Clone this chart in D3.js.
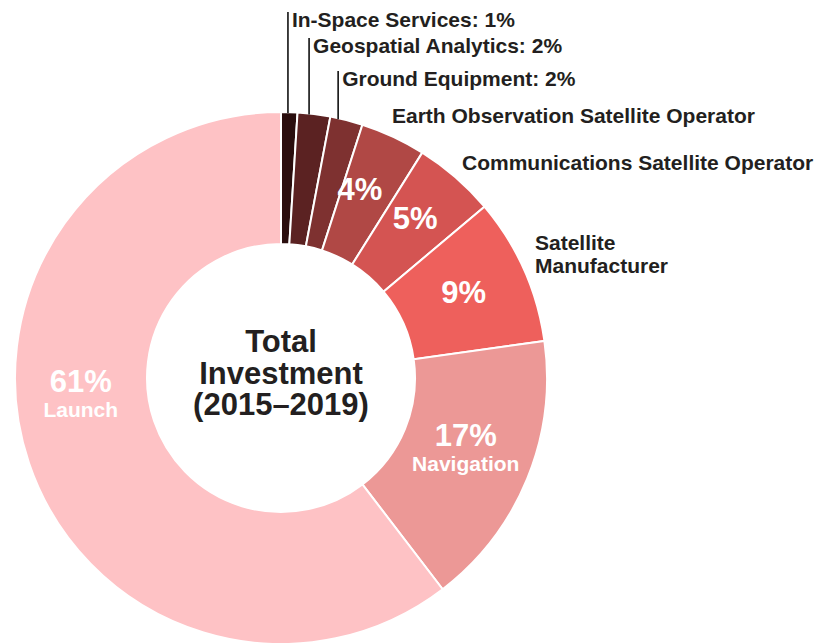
<!DOCTYPE html>
<html>
<head>
<meta charset="utf-8">
<script src="https://cdn.jsdelivr.net/npm/d3@7"></script>
<style>
  html, body { margin: 0; padding: 0; background: #ffffff; }
  svg { display: block; }
  text { font-family: "Liberation Sans", Arial, Helvetica, sans-serif; font-weight: bold; }
</style>
</head>
<body>
<svg id="chart" width="835" height="643"></svg>
<script>
// Investment share by segment, 2015–2019 (percent)
const segments = [
  "In-Space Services",
  "Geospatial Analytics",
  "Ground Equipment",
  "Earth Observation Satellite Operator",
  "Communications Satellite Operator",
  "Satellite Manufacturer",
  "Navigation",
  "Launch"
];
const shares = [1, 2, 2, 4, 5, 9, 17, 61];
const sliceColors = ["#2a0e0e", "#5b2222", "#7e3130", "#b04845", "#d45452", "#ee605c", "#ec9896", "#fec2c5"];
const centerTitle = ["Total", "Investment", "(2015–2019)"];

// Layout: centre and radii of the ring
const width = 835, height = 643;
const cx = 281, cy = 378;
const outerR = 266, innerR = 134;
const ink = "#231f20";

const svg = d3.select("#chart");
const g = svg.append("g").attr("transform", `translate(${cx},${cy})`);

const data = segments.map((name, i) => ({ name, value: shares[i], color: sliceColors[i], i }));

const pie = d3.pie().value(d => d.value).sort(null);
const arcs = pie(data);
const arc = d3.arc().innerRadius(innerR).outerRadius(outerR);

g.selectAll("path.slice")
  .data(arcs)
  .join("path")
  .attr("class", "slice")
  .attr("d", arc)
  .attr("fill", d => d.data.color)
  .attr("stroke", "#ffffff")
  .attr("stroke-width", 2)
  .attr("stroke-linejoin", "miter");

// Helpers to place things along a slice
const angleAt = (a, f) => a.startAngle + f * (a.endAngle - a.startAngle);
const pointAt = (angle, r) => [r * Math.sin(angle), -r * Math.cos(angle)];

// Labels inside the ring: where along the slice (fraction) and whether the name is shown
const insideLabels = [
  { i: 3, f: 0.34, r: 205, name: false },
  { i: 4, f: 0.44, r: 209, name: false },
  { i: 5, f: 0.46, r: 202, name: false },
  { i: 6, f: 0.48, r: 198, name: true },
  { i: 7, f: 0.564, r: 201, name: true }
];

insideLabels.forEach(l => {
  const a = arcs[l.i];
  const [x, y] = pointAt(angleAt(a, l.f), l.r);
  const pct = a.data.value + "%";
  if (!l.name) {
    g.append("text")
      .attr("x", x).attr("y", y + 11)
      .attr("text-anchor", "middle")
      .attr("fill", "#ffffff")
      .attr("font-size", 31)
      .text(pct);
  } else {
    g.append("text")
      .attr("x", x).attr("y", y - 3)
      .attr("text-anchor", "middle")
      .attr("fill", "#ffffff")
      .attr("font-size", 31)
      .text(pct);
    g.append("text")
      .attr("x", x).attr("y", y + 22)
      .attr("text-anchor", "middle")
      .attr("fill", "#ffffff")
      .attr("font-size", 21)
      .text(a.data.name);
  }
});

// Small slices: vertical leader lines to labels above the ring
const leaderLabels = [
  { i: 0, f: 0.42, baseline: 27 },
  { i: 1, f: 0.35, baseline: 53 },
  { i: 2, f: 0.24, baseline: 86 }
];

leaderLabels.forEach(l => {
  const a = arcs[l.i];
  const ang = angleAt(a, l.f);
  const [x, yArc] = pointAt(ang, outerR);
  const top = l.baseline - 15 - cy;
  g.append("line")
    .attr("x1", x).attr("x2", x)
    .attr("y1", top).attr("y2", yArc + 1)
    .attr("stroke", "#111111")
    .attr("stroke-width", 1.6);
  g.append("text")
    .attr("x", x + 4)
    .attr("y", l.baseline - cy)
    .attr("fill", ink)
    .attr("font-size", 21)
    .text(`${a.data.name}: ${a.data.value}%`);
});

// Outside labels for mid-size slices
const outsideLabels = [
  { i: 3, x: 392, lines: ["Earth Observation Satellite Operator"], baseline: 123 },
  { i: 4, x: 462, lines: ["Communications Satellite Operator"], baseline: 170 },
  { i: 5, x: 535, lines: ["Satellite", "Manufacturer"], baseline: 250 }
];

outsideLabels.forEach(l => {
  l.lines.forEach((t, k) => {
    svg.append("text")
      .attr("x", l.x)
      .attr("y", l.baseline + k * 23)
      .attr("fill", ink)
      .attr("font-size", 21)
      .text(t);
  });
});

// Centre title
centerTitle.forEach((t, k) => {
  g.append("text")
    .attr("x", 0)
    .attr("y", -26 + k * 31.5)
    .attr("text-anchor", "middle")
    .attr("fill", ink)
    .attr("font-size", 31)
    .text(t);
});
</script>
</body>
</html>
